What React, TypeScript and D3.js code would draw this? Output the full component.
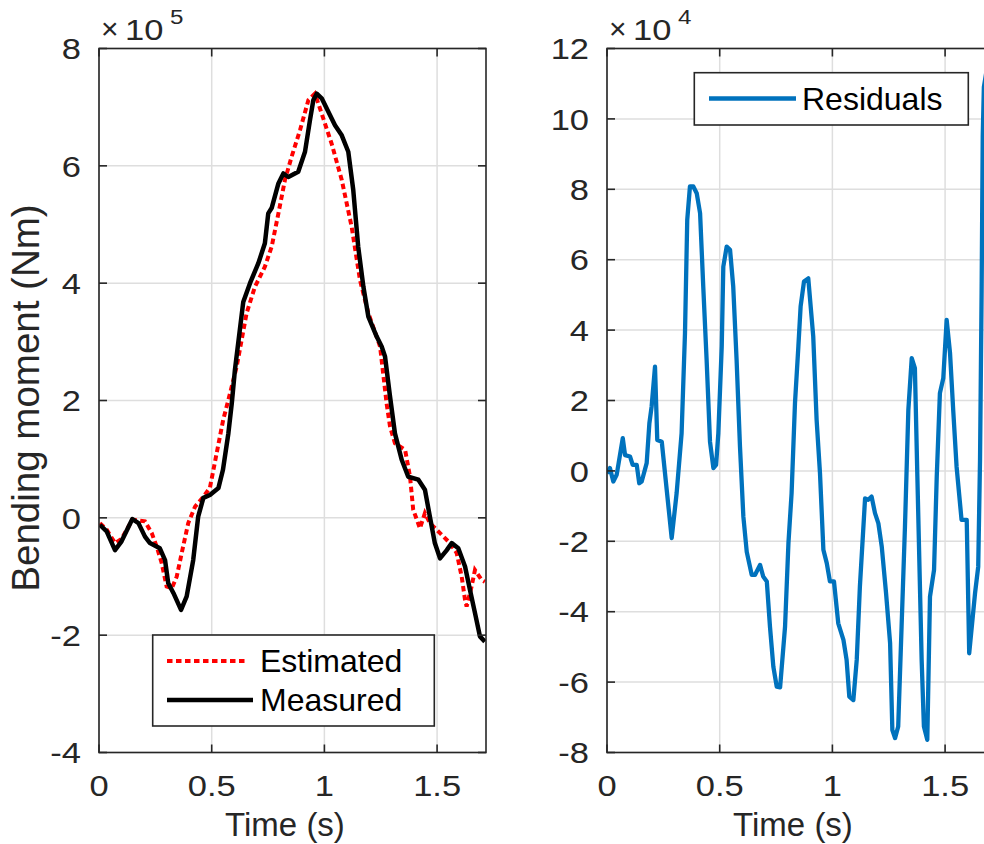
import React from "react";
import * as d3 from "d3";

// ---- Data ----
const measuredT = [0.004,0.034,0.071,0.10,0.148,0.175,0.204,0.226,0.27,0.293,0.307,0.33,0.364,0.389,0.418,0.44,0.463,0.492,0.53,0.55,0.574,0.589,0.603,0.64,0.67,0.707,0.736,0.751,0.766,0.796,0.818,0.84,0.884,0.914,0.936,0.951,0.966,0.988,1.047,1.077,1.106,1.128,1.15,1.173,1.195,1.232,1.254,1.269,1.29,1.313,1.343,1.372,1.417,1.446,1.468,1.49,1.513,1.543,1.565,1.594,1.624,1.646,1.668,1.69,1.712];
const measuredV = [-0.12,-0.23,-0.55,-0.40,-0.02,-0.09,-0.32,-0.43,-0.52,-0.72,-1.11,-1.28,-1.57,-1.34,-0.72,0.02,0.34,0.39,0.51,0.82,1.44,1.95,2.52,3.68,4.0,4.34,4.68,5.19,5.28,5.70,5.87,5.81,5.90,6.24,6.78,7.12,7.23,7.15,6.69,6.52,6.24,5.59,4.62,3.94,3.43,3.09,2.92,2.75,2.1,1.44,0.99,0.70,0.65,0.48,0.02,-0.43,-0.69,-0.55,-0.43,-0.52,-0.83,-1.23,-1.62,-2.02,-2.11];

const estimatedT = [0.004,0.034,0.071,0.10,0.148,0.204,0.234,0.256,0.278,0.30,0.323,0.345,0.367,0.396,0.426,0.463,0.492,0.522,0.551,0.574,0.611,0.655,0.692,0.736,0.766,0.796,0.825,0.855,0.892,0.929,0.958,0.988,1.032,1.077,1.121,1.158,1.195,1.247,1.276,1.291,1.313,1.358,1.38,1.394,1.424,1.446,1.468,1.513,1.557,1.587,1.609,1.624,1.631,1.653,1.668,1.698,1.712];
const estimatedV = [-0.09,-0.20,-0.43,-0.36,-0.03,-0.06,-0.26,-0.49,-0.77,-1.17,-1.20,-1.0,-0.6,-0.09,0.19,0.36,0.51,1.10,1.67,2.01,2.58,3.49,3.94,4.28,4.62,5.19,5.76,6.16,6.61,7.12,7.23,6.89,6.38,5.76,4.96,4.05,3.49,2.92,1.95,1.56,1.27,1.16,0.70,0.14,-0.18,0.08,-0.09,-0.26,-0.43,-0.60,-1.0,-1.40,-1.51,-1.17,-0.89,-1.06,-1.09];

const residualT = [0.0,0.013,0.028,0.043,0.07,0.08,0.102,0.114,0.132,0.143,0.154,0.176,0.188,0.198,0.213,0.223,0.243,0.265,0.287,0.309,0.331,0.346,0.356,0.368,0.383,0.398,0.413,0.427,0.442,0.457,0.472,0.484,0.494,0.509,0.516,0.531,0.546,0.560,0.575,0.59,0.605,0.62,0.642,0.657,0.679,0.693,0.709,0.723,0.738,0.753,0.768,0.79,0.805,0.819,0.834,0.849,0.859,0.874,0.893,0.915,0.93,0.945,0.96,0.975,0.989,1.007,1.026,1.049,1.063,1.075,1.093,1.108,1.122,1.145,1.159,1.174,1.189,1.204,1.219,1.238,1.256,1.266,1.278,1.292,1.307,1.322,1.337,1.352,1.366,1.377,1.396,1.406,1.421,1.433,1.451,1.463,1.477,1.492,1.507,1.522,1.536,1.551,1.573,1.596,1.607,1.633,1.647,1.655,1.662,1.667,1.672,1.69,1.717];
const residualV = [-0.07,0.08,-0.30,-0.11,0.93,0.45,0.41,0.17,0.17,-0.35,-0.30,0.22,1.35,1.83,2.96,0.88,0.83,-0.54,-1.91,-0.63,1.07,3.91,7.13,8.08,8.08,7.89,7.32,5.24,3.15,0.83,0.08,0.17,1.07,3.53,5.80,6.37,6.28,5.24,3.15,0.69,-1.30,-2.30,-2.95,-2.95,-2.67,-3.0,-3.14,-4.42,-5.56,-6.13,-6.15,-4.42,-2.05,-0.63,1.92,3.53,4.67,5.38,5.47,3.82,1.45,-0.07,-2.24,-2.62,-3.14,-3.14,-4.33,-4.80,-5.37,-6.41,-6.51,-5.37,-3.29,-0.78,-0.82,-0.73,-1.20,-1.49,-2.15,-3.47,-4.89,-7.36,-7.59,-7.26,-4.42,-1.58,1.73,3.20,2.92,-0.16,-5.37,-7.26,-7.64,-3.57,-2.81,-0.16,2.21,2.63,4.29,3.34,1.73,0.12,-1.39,-1.39,-5.18,-3.47,-2.72,0.31,5.05,9.5,10.9,11.6,10.2];

const xTicks = [0, 0.5, 1, 1.5];
const xTickLabels = ["0", "0.5", "1", "1.5"];
const leftYTicks = [-4, -2, 0, 2, 4, 6, 8];
const rightYTicks = [-8, -6, -4, -2, 0, 2, 4, 6, 8, 10, 12];
const leftExponent = "5";
const rightExponent = "4";
const leftLegend = ["Estimated", "Measured"];
const rightLegend = ["Residuals"];

const FONT = "'Liberation Sans', Arial, Helvetica, sans-serif";
const AXC = "#262626";
const GRID = "#dedede";
const TOP = 48.5;
const BOTTOM = 752.5;
const XMAX = 1.717;
const TICK_FS = 30;
const SX = 1.15;

function TickText(props: { x: number; y: number; anchor: string; size?: number; children: React.ReactNode }) {
  return (
    <text
      transform={`translate(${props.x},${props.y}) scale(${SX},1)`}
      textAnchor={props.anchor as any}
      fontSize={props.size ?? TICK_FS}
      fill={AXC}
      fontFamily={FONT}
    >
      {props.children}
    </text>
  );
}

function Axes(props: {
  x0: number; x1: number; yDomain: [number, number]; yTicks: number[];
  exponent: string; id: string; children: (x: any, y: any) => React.ReactNode;
}) {
  const { x0, x1, yDomain, yTicks, exponent, id } = props;
  const x = d3.scaleLinear().domain([0, XMAX]).range([x0, x1]);
  const y = d3.scaleLinear().domain(yDomain).range([BOTTOM, TOP]);
  const tl = 8;
  return (
    <g>
      <defs>
        <clipPath id={id}>
          <rect x={x0} y={TOP} width={x1 - x0} height={BOTTOM - TOP} />
        </clipPath>
      </defs>
      <rect x={x0} y={TOP} width={x1 - x0} height={BOTTOM - TOP} fill="#fff" />
      {xTicks.map((t) => (
        <line key={"gx" + t} x1={x(t)} x2={x(t)} y1={TOP} y2={BOTTOM} stroke={GRID} strokeWidth={1.5} />
      ))}
      {yTicks.map((t) => (
        <line key={"gy" + t} x1={x0} x2={x1} y1={y(t)} y2={y(t)} stroke={GRID} strokeWidth={1.5} />
      ))}
      <g clipPath={`url(#${id})`}>{props.children(x, y)}</g>
      <rect x={x0} y={TOP} width={x1 - x0} height={BOTTOM - TOP} fill="none" stroke={AXC} strokeWidth={1.6} />
      {xTicks.map((t) => (
        <g key={"tx" + t}>
          <line x1={x(t)} x2={x(t)} y1={BOTTOM} y2={BOTTOM - tl} stroke={AXC} strokeWidth={1.6} />
          <line x1={x(t)} x2={x(t)} y1={TOP} y2={TOP + tl} stroke={AXC} strokeWidth={1.6} />
        </g>
      ))}
      {yTicks.map((t) => (
        <g key={"ty" + t}>
          <line x1={x0} x2={x0 + tl} y1={y(t)} y2={y(t)} stroke={AXC} strokeWidth={1.6} />
          <line x1={x1} x2={x1 - tl} y1={y(t)} y2={y(t)} stroke={AXC} strokeWidth={1.6} />
        </g>
      ))}
      {xTicks.map((t, i) => (
        <TickText key={"lx" + t} x={x(t)} y={796} anchor="middle">
          {xTickLabels[i]}
        </TickText>
      ))}
      {yTicks.map((t) => (
        <TickText key={"ly" + t} x={x0 - 18} y={y(t) + 10.7} anchor="end">
          {String(t)}
        </TickText>
      ))}
      <text x={x0 + 2} y={39} fontSize={30} fill={AXC} fontFamily={FONT}>
        ×
      </text>
      <TickText x={x0 + 26} y={40} anchor="start">10</TickText>
      <TickText x={x0 + 71} y={24} anchor="start" size={21}>{exponent}</TickText>
      <text x={x0 + 186} y={836} textAnchor="middle" fontSize={33} fill={AXC} fontFamily={FONT}>
        Time (s)
      </text>
    </g>
  );
}

export default function App() {
  const lineGen = (xs: any, ys: any, T: number[], V: number[]) =>
    d3.line<number>().x((_, i) => xs(T[i])).y((_, i) => ys(V[i]))(T) || "";

  return (
    <svg width={984} height={844} style={{ position: "absolute", left: 0, top: 0, background: "#fff" }}>
      <rect x={0} y={0} width={984} height={844} fill="#fff" />
      <Axes x0={99} x1={486} yDomain={[-4, 8]} yTicks={leftYTicks} exponent={leftExponent} id="clipL">
        {(x, y) => (
          <g>
            <path d={lineGen(x, y, estimatedT, estimatedV)} fill="none" stroke="#ff0000" strokeWidth={4} strokeDasharray="5.5,3.5" />
            <path d={lineGen(x, y, measuredT, measuredV)} fill="none" stroke="#000" strokeWidth={4.5} strokeLinejoin="round" />
          </g>
        )}
      </Axes>
      <Axes x0={607} x1={994} yDomain={[-8, 12]} yTicks={rightYTicks} exponent={rightExponent} id="clipR">
        {(x, y) => (
          <path d={lineGen(x, y, residualT, residualV)} fill="none" stroke="#0072bd" strokeWidth={4.3} strokeLinejoin="round" />
        )}
      </Axes>
      {/* y label */}
      <text transform="translate(39,398) rotate(-90)" textAnchor="middle" fontSize={38.5} fill={AXC} fontFamily={FONT}>
        Bending moment (Nm)
      </text>
      {/* left legend */}
      <g>
        <rect x={152.7} y={635} width={281.6} height={91} fill="#fff" stroke={AXC} strokeWidth={1.6} />
        <line x1={167} x2={248} y1={661} y2={661} stroke="#ff0000" strokeWidth={4} strokeDasharray="5.5,3.5" />
        <text x={260} y={672} fontSize={32} fill="#000" fontFamily={FONT}>{leftLegend[0]}</text>
        <line x1={167} x2={253} y1={700} y2={700} stroke="#000" strokeWidth={4.5} />
        <text x={260} y={711} fontSize={32} fill="#000" fontFamily={FONT}>{leftLegend[1]}</text>
      </g>
      {/* right legend */}
      <g>
        <rect x={694.3} y={72.7} width={274} height={52.3} fill="#fff" stroke={AXC} strokeWidth={1.6} />
        <line x1={709} x2={796} y1={98.5} y2={98.5} stroke="#0072bd" strokeWidth={4.3} />
        <text x={802} y={110} fontSize={32} fill="#000" fontFamily={FONT}>{rightLegend[0]}</text>
      </g>
    </svg>
  );
}
